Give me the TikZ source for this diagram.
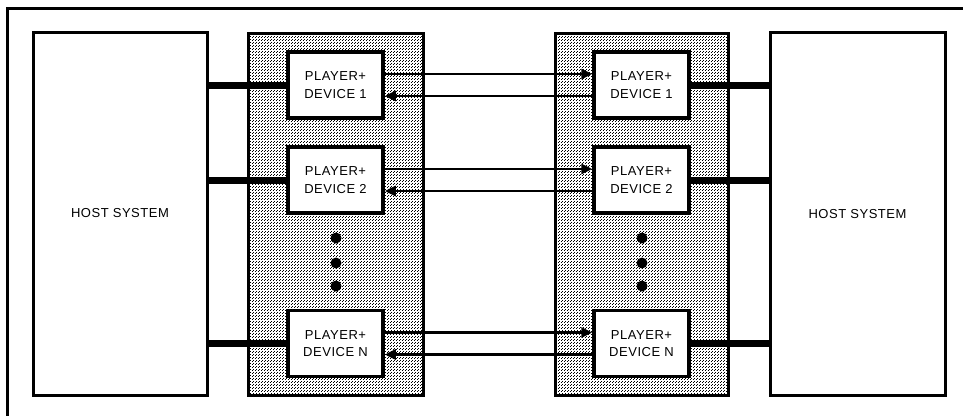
\documentclass[tikz,border=0pt]{standalone}
\usepackage{fontspec}
\setmainfont{Liberation Sans}[LetterSpace=4]
\usetikzlibrary{arrows.meta,patterns.meta}
\tikzdeclarepattern{
  name=stipple,
  type=uncolored,
  bottom left={(0pt,0pt)},
  top right={(3pt,3pt)},
  tile size={(3pt,3pt)},
  code={
    \pgfpathrectangle{\pgfpointorigin}{\pgfpoint{1.1pt}{1.1pt}}
    \pgfpathrectangle{\pgfpoint{1.5pt}{1.5pt}}{\pgfpoint{1.1pt}{1.1pt}}
    \pgfusepath{fill}
  }
}
\tikzset{
  host/.style={draw, line width=3pt, fill=white, inner sep=0pt, minimum height=363pt, font=\fontsize{13}{16}\selectfont},
  panel/.style={draw, line width=3pt, pattern=stipple, pattern color=black, inner sep=0pt, minimum height=362pt},
  pdev/.style={draw, line width=3.5pt, fill=white, inner sep=0pt, minimum width=95pt, minimum height=66pt, align=center, font=\fontsize{13}{17.5}\selectfont},
  bus/.style={line width=7pt},
  arr/.style={line width=2.8pt, -{Triangle[length=11pt,width=10pt]}},
  vdot/.style={circle, fill=black, inner sep=0pt, minimum size=11pt},
  frame/.style={line width=3pt}
}
\begin{document}
\begin{tikzpicture}[x=1pt,y=-1pt]
\useasboundingbox (0,0) rectangle (963,415);
\draw[frame] (7,420) -- (7,8.5) -- (970,8.5);
% hosts
\node[host, minimum width=174pt] (hostL) at (120,213.5) {HOST SYSTEM};
\node[host, minimum width=175pt] (hostR) at (857.5,214) {HOST SYSTEM};
% panels
\node[panel, minimum width=175pt] (panL) at (335.5,214) {};
\node[panel, minimum width=173pt] (panR) at (641.5,214) {};
% player devices
\node[pdev] (L1) at (335.5,85) {PLAYER+\\DEVICE 1};
\node[pdev] (L2) at (335.5,180) {PLAYER+\\DEVICE 2};
\node[pdev] (LN) at (335.5,343.5) {PLAYER+\\DEVICE N};
\node[pdev] (R1) at (641.5,85) {PLAYER+\\DEVICE 1};
\node[pdev] (R2) at (641.5,180) {PLAYER+\\DEVICE 2};
\node[pdev] (RN) at (641.5,343.5) {PLAYER+\\DEVICE N};
% dots
\node[vdot] (dL1) at (336,238) {};
\node[vdot] (dL2) at (336,263) {};
\node[vdot] (dL3) at (336,286) {};
\node[vdot] (dR1) at (642,238) {};
\node[vdot] (dR2) at (642,263) {};
\node[vdot] (dR3) at (642,286) {};
% buses
\foreach \n in {L1,L2,LN}{
  \draw[bus] (\n.west) -- (\n.west -| hostL.east);
}
\foreach \n in {R1,R2,RN}{
  \draw[bus] (\n.east) -- (\n.east -| hostR.west);
}
% arrows
\foreach \a/\b in {L1/R1,L2/R2,LN/RN}{
  \draw[arr] ([yshift=11pt]\a.east) -- ([yshift=11pt]\b.west);
  \draw[arr] ([yshift=-11pt]\b.west) -- ([yshift=-11pt]\a.east);
}
\end{tikzpicture}
\end{document}
